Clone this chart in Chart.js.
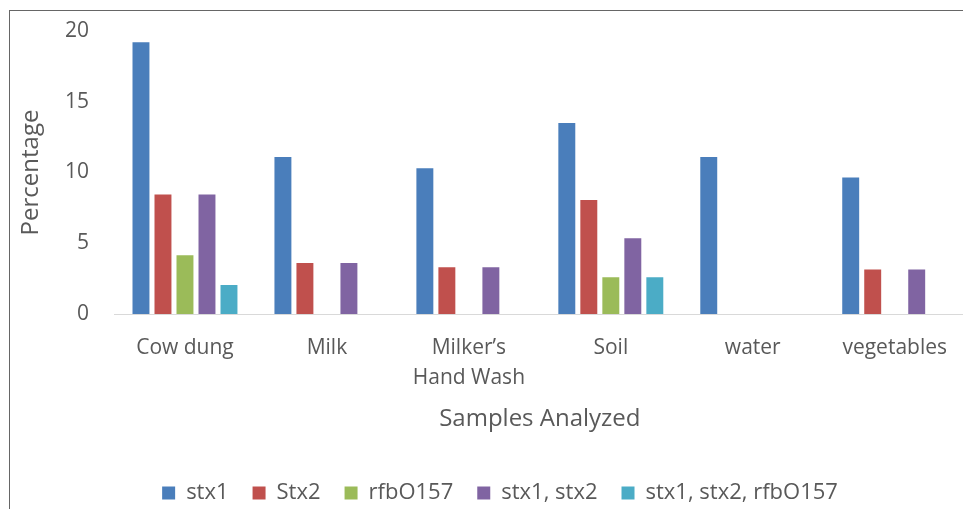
<!DOCTYPE html>
<html>
<head>
<meta charset="utf-8">
<script src="https://cdn.jsdelivr.net/npm/chart.js@4"></script>
<style>
  html, body { margin: 0; padding: 0; background: #fff; overflow: hidden; }
  #frame {
    position: absolute; left: 9px; top: 10px; width: 1000px; height: 520px;
    border-left: 1px solid #666; border-top: 1px solid #666;
  }
  #wrap { position: absolute; left: 0; top: 0; width: 966px; height: 509px; }
</style>
</head>
<body>
<div id="frame"></div>
<div id="wrap"><canvas id="chart"></canvas></div>
<script>
// samples and detection percentages per gene
const samples = ["Cow dung", "Milk", ["Milker\u2019s", "Hand Wash"], "Soil", "water", "vegetables"];
const stx1 = [19.2, 11.1, 10.3, 13.5, 11.1, 9.65];
const stx2 = [8.45, 3.6, 3.3, 8.05, 0, 3.15];
const rfbO157 = [4.15, 0, 0, 2.6, 0, 0];
const stx1stx2 = [8.45, 3.6, 3.3, 5.35, 0, 3.15];
const stx1stx2rfb = [2.05, 0, 0, 2.6, 0, 0];
const yTicks = [0, 5, 10, 15, 20];

const grey = "#595959";
const font = "'Open Sans', sans-serif";

function series(label, data, color) {
    return {
        label: label,
        data: data,
        backgroundColor: color,
        borderWidth: 0,
        barPercentage: 0.77,
        categoryPercentage: 0.775
    };
}

new Chart(document.getElementById("chart"), {
    type: "bar",
    data: {
        labels: samples,
        datasets: [
            series("stx1", stx1, "#4a7ebb"),
            series("Stx2", stx2, "#c0504d"),
            series("rfbO157", rfbO157, "#9bbb59"),
            series("stx1, stx2", stx1stx2, "#8064a2"),
            series("stx1, stx2, rfbO157", stx1stx2rfb, "#4bacc6")
        ]
    },
    options: {
        responsive: true,
        maintainAspectRatio: false,
        animation: false,
        // small negative bottom padding lets the wide legend spacing sit low like the original
        layout: { padding: { left: 34, top: 0, right: 0, bottom: -5 } },
        plugins: {
            tooltip: { enabled: false },
            legend: {
                position: "bottom",
                labels: {
                    color: grey,
                    font: { family: font, size: 22 },
                    boxWidth: 13,
                    boxHeight: 13,
                    padding: 24
                }
            }
        },
        scales: {
            x: {
                grid: { display: false, drawTicks: false },
                border: { display: true, color: "#d9d9d9", width: 1 },
                ticks: { color: grey, font: { family: font, size: 21, lineHeight: 1.43 }, padding: 19, maxRotation: 0 },
                title: {
                    display: true,
                    text: "Samples Analyzed",
                    color: grey,
                    font: { family: font, size: 24 },
                    padding: { top: 0, bottom: 24 }
                },
                afterFit: function (scale) { scale.height = 144; }
            },
            y: {
                min: 0,
                max: 20,
                afterBuildTicks: function (scale) {
                    scale.ticks = yTicks.map(v => ({ value: v }));
                },
                grid: { display: false, drawTicks: false },
                border: { display: false },
                ticks: { color: grey, font: { family: font, size: 21 }, padding: 25 },
                title: {
                    display: true,
                    text: "Percentage",
                    color: grey,
                    font: { family: font, size: 24 },
                    padding: { top: -17, bottom: 0 }
                },
                afterFit: function (scale) {
                    scale.width = 80;
                    scale.paddingTop = 31;
                    scale.paddingBottom = 10;
                }
            }
        }
    }
});
</script>
</body>
</html>
